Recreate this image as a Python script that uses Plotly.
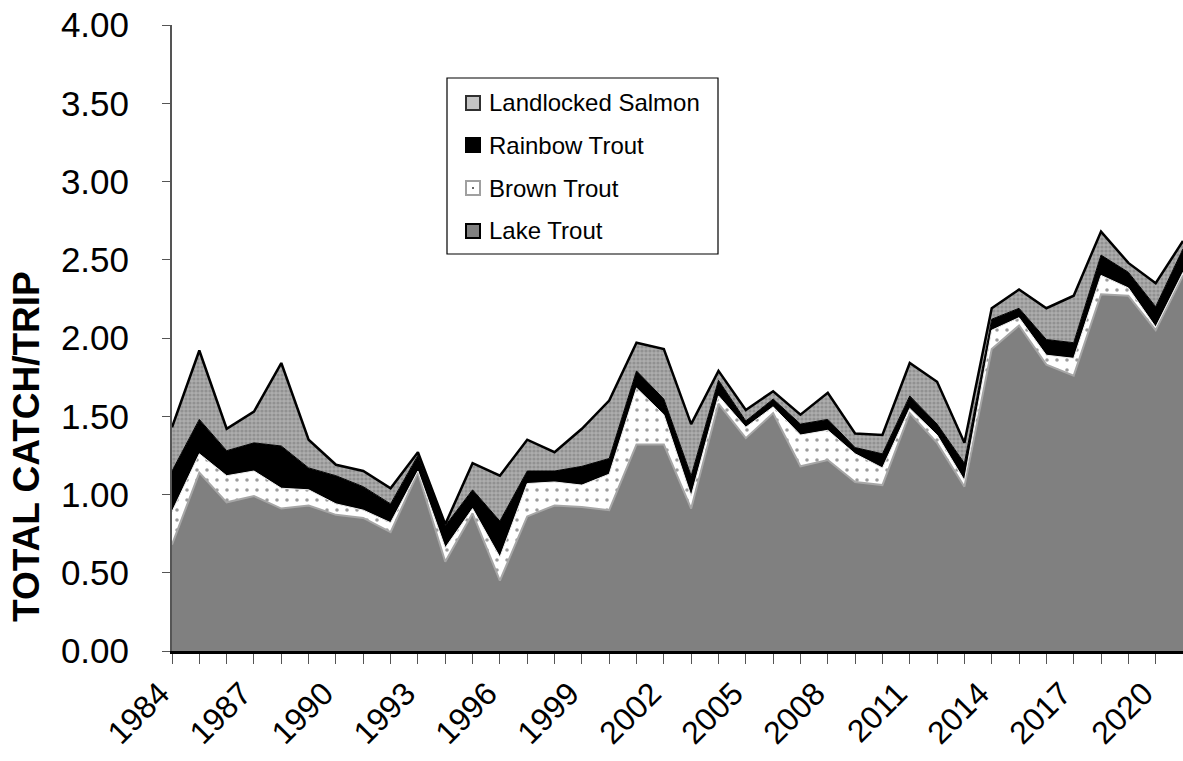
import plotly.graph_objects as go

years = list(range(1984, 2022))

lake_trout = [0.68, 1.14, 0.95, 0.99, 0.91, 0.93, 0.87, 0.85, 0.76, 1.14,
              0.57, 0.88, 0.45, 0.86, 0.93, 0.92, 0.90, 1.32, 1.32, 0.91,
              1.58, 1.36, 1.52, 1.18, 1.22, 1.08, 1.06, 1.52, 1.33, 1.05,
              1.93, 2.08, 1.83, 1.76, 2.28, 2.27, 2.05, 2.40]
brown_trout = [0.21, 0.12, 0.17, 0.16, 0.13, 0.10, 0.07, 0.05, 0.06, 0.01,
               0.09, 0.03, 0.15, 0.21, 0.15, 0.14, 0.23, 0.36, 0.19, 0.08,
               0.05, 0.07, 0.04, 0.20, 0.19, 0.18, 0.11, 0.03, 0.05, 0.04,
               0.12, 0.05, 0.06, 0.11, 0.12, 0.05, 0.02, 0.02]
rainbow_trout = [0.26, 0.22, 0.16, 0.18, 0.27, 0.14, 0.18, 0.15, 0.12, 0.10,
                 0.14, 0.12, 0.23, 0.08, 0.07, 0.12, 0.10, 0.11, 0.10, 0.13,
                 0.10, 0.04, 0.05, 0.07, 0.07, 0.04, 0.09, 0.08, 0.07, 0.11,
                 0.07, 0.06, 0.10, 0.10, 0.13, 0.10, 0.13, 0.15]
landlocked_salmon = [0.28, 0.44, 0.14, 0.20, 0.53, 0.18, 0.07, 0.10, 0.10, 0.02,
                     0.01, 0.17, 0.29, 0.20, 0.12, 0.24, 0.37, 0.18, 0.32, 0.33,
                     0.06, 0.07, 0.05, 0.06, 0.17, 0.09, 0.12, 0.21, 0.27, 0.13,
                     0.07, 0.12, 0.20, 0.30, 0.15, 0.06, 0.15, 0.05]

series_names = ["Landlocked Salmon", "Rainbow Trout", "Brown Trout", "Lake Trout"]
y_ticks = [0, 0.5, 1, 1.5, 2, 2.5, 3, 3.5, 4]
x_tick_labels = [str(y) if (y - 1984) % 3 == 0 else "" for y in years]

FONT = "Liberation Sans, Arial, sans-serif"

# plot area in pixels
W, H = 1183, 761
L, R, T, B = 172, 0, 25, 110
PW, PH = W - L - R, H - T - B


def px(x):
    return (x - L) / PW


def py(y):
    return (H - B - y) / PH


fig = go.Figure()

fig.add_trace(go.Scatter(
    x=years, y=lake_trout, name="Lake Trout", stackgroup="one", mode="lines",
    line=dict(color="#a6a6a6", width=2), fillcolor="#808080"))
fig.add_trace(go.Scatter(
    x=years, y=brown_trout, name="Brown Trout", stackgroup="one", mode="lines",
    line=dict(color="#f0f0f0", width=1),
    fillpattern=dict(shape=".", bgcolor="#ffffff", fgcolor="#3a3a3a", size=10, solidity=0.1)))
fig.add_trace(go.Scatter(
    x=years, y=rainbow_trout, name="Rainbow Trout", stackgroup="one", mode="lines",
    line=dict(color="#000000", width=1), fillcolor="#000000"))
fig.add_trace(go.Scatter(
    x=years, y=landlocked_salmon, name="Landlocked Salmon", stackgroup="one", mode="lines",
    line=dict(color="#000000", width=2.5),
    fillpattern=dict(shape=".", bgcolor="#adadad", fgcolor="#767676", size=4, solidity=0.5)))

shapes = []
annotations = []

# custom legend box
lx0, ly0, lx1, ly1 = 447, 78, 718, 254
shapes.append(dict(type="rect", xref="paper", yref="paper",
                   x0=px(lx0), x1=px(lx1), y0=py(ly1), y1=py(ly0),
                   line=dict(color="black", width=1.2), fillcolor="white", layer="above"))
legend_rows = [103, 145, 188, 231]
marker_styles = [
    dict(fill="#c4c4c4", line="#303030"),
    dict(fill="#000000", line="#000000"),
    dict(fill="#ffffff", line="#a0a0a0"),
    dict(fill="#808080", line="#000000"),
]
for name, yc, st in zip(series_names, legend_rows, marker_styles):
    shapes.append(dict(type="rect", xref="paper", yref="paper",
                       x0=px(466), x1=px(480), y0=py(yc + 7), y1=py(yc - 7),
                       line=dict(color=st["line"], width=2), fillcolor=st["fill"], layer="above"))
    annotations.append(dict(x=px(487), y=py(yc), xref="paper", yref="paper",
                            text=name, showarrow=False, xanchor="left", yanchor="middle",
                            font=dict(family=FONT, size=24, color="black")))
# dot in Brown Trout marker
shapes.append(dict(type="circle", xref="paper", yref="paper",
                   x0=px(472), x1=px(474), y0=py(189), y1=py(187),
                   line=dict(color="#333333", width=0), fillcolor="#333333", layer="above"))

annotations.append(dict(x=px(26), y=py(447), xref="paper", yref="paper",
                        text="<b>TOTAL CATCH/TRIP</b>", textangle=-90, showarrow=False,
                        xanchor="center", yanchor="middle",
                        font=dict(family=FONT, size=37, color="black")))

fig.update_layout(
    width=W, height=H,
    margin=dict(l=L, r=R, t=T, b=B, pad=0),
    paper_bgcolor="white", plot_bgcolor="white",
    showlegend=False,
    shapes=shapes, annotations=annotations,
    font=dict(family=FONT, color="black"),
    xaxis=dict(range=[1984, 2021], tickmode="array", tickvals=years, ticktext=x_tick_labels,
               tickangle=-45, ticks="outside", ticklen=10, tickcolor="#555555", tickwidth=1,
               showline=True, linecolor="black", linewidth=3, showgrid=False, zeroline=False,
               tickfont=dict(family=FONT, size=32, color="black"), automargin=False,
               ticklabelshift=-12, ticklabelstandoff=-2),
    yaxis=dict(range=[0, 4], tickmode="array", tickvals=y_ticks, tickformat=".2f",
               ticks="outside", ticklen=8, tickcolor="#555555", tickwidth=1,
               showline=True, linecolor="#555555", linewidth=2, showgrid=False, zeroline=False,
               tickfont=dict(family=FONT, size=35, color="black"), automargin=False,
               ticklabelstandoff=26),
)

fig.write_html("out.html", config={"displayModeBar": False},
               post_script="document.body.style.margin='0';document.body.style.overflow='hidden';")
